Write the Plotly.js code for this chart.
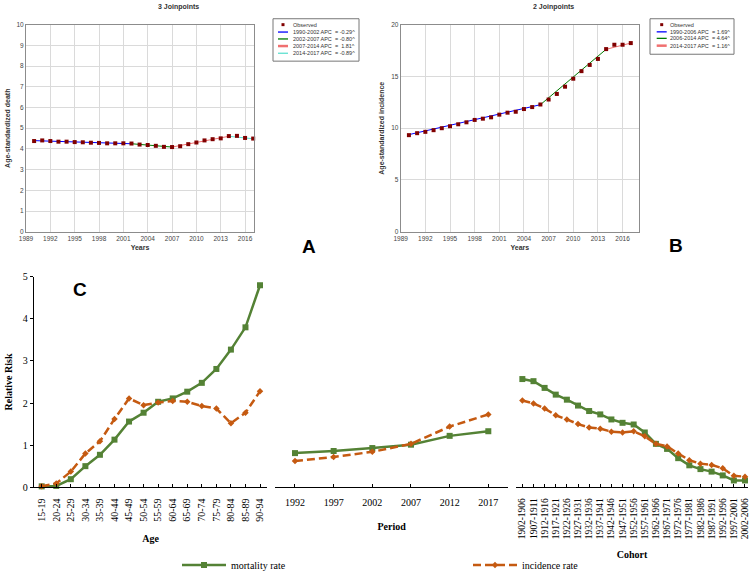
<!DOCTYPE html>
<html><head><meta charset="utf-8">
<script src="https://cdn.plot.ly/plotly-3.0.1.min.js"></script>
<style>html,body{margin:0;padding:0;background:#fff}#chart{width:753px;height:580px}</style>
</head><body><div id="chart"></div>
<script>
// ---------- DATA ----------
const years = [1990,1991,1992,1993,1994,1995,1996,1997,1998,1999,2000,2001,2002,2003,2004,2005,2006,2007,2008,2009,2010,2011,2012,2013,2014,2015,2016,2017];
const deathObserved = [4.38,4.41,4.38,4.35,4.35,4.33,4.32,4.30,4.29,4.27,4.27,4.27,4.26,4.21,4.19,4.15,4.10,4.09,4.13,4.23,4.31,4.41,4.47,4.51,4.62,4.63,4.53,4.50];
const incidenceObserved = [9.33,9.52,9.65,9.81,10.0,10.19,10.38,10.57,10.80,10.92,11.05,11.31,11.50,11.59,11.85,12.04,12.29,12.77,13.31,14.01,14.78,15.51,16.11,16.69,17.64,18.06,18.06,18.22];

const deathSegYears = [[1990,2002],[2002,2007],[2007,2014],[2014,2017]];
const deathSegFit = [[4.40,4.25],[4.25,4.09],[4.09,4.61],[4.61,4.49]];
const deathSegLabels = ["1990-2002 APC  = -0.29^","2002-2007 APC  = -0.80^","2007-2014 APC  =  1.81^","2014-2017 APC  = -0.89^"];
const deathSegColors = ["#0000ff","#007a00","#f07070","#5fe0d0"];

const incSegYears = [[1990,2006],[2006,2014],[2014,2017]];
const incSegFit = [[9.38,12.27],[12.27,17.62],[17.62,18.22]];
const incSegLabels = ["1990-2006 APC  = 1.69^","2006-2014 APC  = 4.64^","2014-2017 APC  = 1.16^"];
const incSegColors = ["#0000ff","#007a00","#f07070"];

const ageGroups = ["15-19","20-24","25-29","30-34","35-39","40-44","45-49","50-54","55-59","60-64","65-69","70-74","75-79","80-84","85-89","90-94"];
const ageMortality = [0.02,0.03,0.19,0.50,0.77,1.13,1.56,1.77,2.03,2.11,2.27,2.48,2.81,3.27,3.80,4.80];
const ageIncidence = [0.02,0.09,0.37,0.80,1.09,1.62,2.11,1.95,2.01,2.05,2.03,1.93,1.87,1.52,1.77,2.28];

const periods = ["1992","1997","2002","2007","2012","2017"];
const periodMortality = [0.81,0.86,0.93,1.01,1.22,1.33];
const periodIncidence = [0.62,0.72,0.84,1.03,1.44,1.73];

const cohorts = ["1902-1906","1907-1911","1912-1916","1917-1921","1922-1926","1927-1931","1932-1936","1937-1941","1942-1946","1947-1951","1952-1956","1957-1961","1962-1966","1967-1971","1972-1976","1977-1981","1982-1986","1987-1991","1992-1996","1997-2001","2002-2006"];
const cohortMortality = [2.57,2.52,2.36,2.20,2.08,1.94,1.81,1.73,1.61,1.53,1.49,1.30,1.03,0.91,0.69,0.52,0.43,0.37,0.28,0.16,0.16];
const cohortIncidence = [2.06,1.99,1.87,1.71,1.61,1.50,1.42,1.39,1.32,1.30,1.33,1.21,1.03,0.97,0.80,0.64,0.56,0.53,0.45,0.27,0.25];

// ---------- LAYOUT HELPERS ----------
const W = 753, H = 580;
const px = x => x / W;
const py = y => 1 - y / H;
const SANS = "Liberation Sans, Arial, sans-serif";
const SERIF = "Liberation Serif, Times New Roman, serif";
const GREEN = "#548235", ORANGE = "#c55a11", OBS = "#800000";

const traces = [];
// Panel A
deathSegYears.forEach((xs, i) => traces.push({x: xs, y: deathSegFit[i], xaxis: "x", yaxis: "y", mode: "lines", line: {color: deathSegColors[i], width: 1}, name: deathSegLabels[i], showlegend: false, hoverinfo: "skip"}));
traces.push({x: years, y: deathObserved, xaxis: "x", yaxis: "y", mode: "markers", marker: {symbol: "square", size: 4, color: OBS}, name: "Observed", showlegend: false, cliponaxis: false});
// Panel B
incSegYears.forEach((xs, i) => traces.push({x: xs, y: incSegFit[i], xaxis: "x2", yaxis: "y2", mode: "lines", line: {color: incSegColors[i], width: 1}, name: incSegLabels[i], showlegend: false, hoverinfo: "skip"}));
traces.push({x: years, y: incidenceObserved, xaxis: "x2", yaxis: "y2", mode: "markers", marker: {symbol: "square", size: 4, color: OBS}, name: "Observed", showlegend: false, cliponaxis: false});
// Panel C
const mortStyle = {mode: "lines+markers", line: {color: GREEN, width: 2.5}, marker: {symbol: "square", size: 6, color: GREEN}, cliponaxis: false};
const incStyle = {mode: "lines+markers", line: {color: ORANGE, width: 2.5, dash: "8px,4px"}, marker: {symbol: "diamond", size: 5, color: ORANGE}, cliponaxis: false};
traces.push(Object.assign({x: ageGroups, y: ageMortality, xaxis: "x3", yaxis: "y3", name: "mortality rate", showlegend: true, legend: "legend3"}, mortStyle));
traces.push(Object.assign({x: ageGroups, y: ageIncidence, xaxis: "x3", yaxis: "y3", name: "incidence rate", showlegend: true, legend: "legend4"}, incStyle));
traces.push(Object.assign({x: periods, y: periodMortality, xaxis: "x4", yaxis: "y3", name: "mortality rate", showlegend: false}, mortStyle));
traces.push(Object.assign({x: periods, y: periodIncidence, xaxis: "x4", yaxis: "y3", name: "incidence rate", showlegend: false}, incStyle));
traces.push(Object.assign({x: cohorts, y: cohortMortality, xaxis: "x5", yaxis: "y3", name: "mortality rate", showlegend: false}, mortStyle));
traces.push(Object.assign({x: cohorts, y: cohortIncidence, xaxis: "x5", yaxis: "y3", name: "incidence rate", showlegend: false}, incStyle));

const jpX = (dom, range, anchor) => ({domain: dom, range: range, anchor: anchor, tickmode: "linear", tick0: 1989, dtick: 3,
  showgrid: true, gridcolor: "#dadada", gridwidth: 1, showline: true, linecolor: "#8c8c8c", linewidth: 1, mirror: true,
  ticks: "", zeroline: false, tickfont: {family: SANS, size: 6.5, color: "#444"},
  title: {text: "<b>Years</b>", font: {family: SANS, size: 7, color: "#333"}, standoff: 4}});
const jpY = (dom, range, dtick, anchor, title) => ({domain: dom, range: range, anchor: anchor, dtick: dtick,
  showgrid: true, gridcolor: "#dadada", gridwidth: 1, showline: true, linecolor: "#8c8c8c", linewidth: 1, mirror: true,
  ticks: "", zeroline: false, tickfont: {family: SANS, size: 6.5, color: "#444"},
  title: {text: "<b>" + title + "</b>", font: {family: SANS, size: 7, color: "#333"}, standoff: 5}});
const cX = (dom, range, cats, angle, title, standoff, fsize) => ({domain: dom, range: range, anchor: "y3", type: "category",
  tickmode: "array", tickvals: cats, ticktext: cats,
  showgrid: false, zeroline: false, showline: true, linecolor: "#000", linewidth: 1.2,
  ticks: "inside", ticklen: 3, tickcolor: "#000", tickangle: angle, ticklabelstandoff: 6,
  tickfont: {family: SERIF, size: fsize, color: "#000"},
  title: {text: "<b>" + title + "</b>", font: {family: SERIF, size: 10, color: "#000"}, standoff: standoff}});

const annotations = [];
const shapes = [];
const ann = (x, y, text, size, opts) => annotations.push(Object.assign({xref: "paper", yref: "paper", x: px(x), y: py(y), text: text, showarrow: false,
  font: {family: SANS, size: size, color: "#000"}, xanchor: "center", yanchor: "middle"}, opts || {}));
ann(178, 7, "<b>3 Joinpoints</b>", 7, {font: {family: SANS, size: 7, color: "#333"}});
ann(553, 7, "<b>2 Joinpoints</b>", 7, {font: {family: SANS, size: 7, color: "#333"}});
ann(309, 250, "<b>A</b>", 19);
ann(676, 249, "<b>B</b>", 19);
ann(80, 294, "<b>C</b>", 19);

// Manual JoinPoint legends
function jpLegend(box, rows, lineX0, lineX1, textX, labels, colors) {
  shapes.push({type: "rect", xref: "paper", yref: "paper", x0: px(box[0]), y0: py(box[1]), x1: px(box[2]), y1: py(box[3]), line: {color: "#777", width: 1}, fillcolor: "#fff"});
  const mx = (lineX0 + lineX1) / 2;
  shapes.push({type: "rect", xref: "paper", yref: "paper", x0: px(mx - 1.5), x1: px(mx + 1.5), y0: py(rows[0] - 1.5), y1: py(rows[0] + 1.5), line: {width: 0}, fillcolor: OBS});
  ann(textX, rows[0], "Observed", 5.5, {xanchor: "left", font: {family: SANS, size: 5.5, color: "#333"}});
  labels.forEach((lab, i) => {
    const y = rows[i + 1];
    shapes.push({type: "line", xref: "paper", yref: "paper", x0: px(lineX0), x1: px(lineX1), y0: py(y), y1: py(y), line: {color: colors[i], width: colors[i] === "#f07070" ? 2.5 : 1.3}});
    ann(textX, y, lab, 5.5, {xanchor: "left", font: {family: SANS, size: 5.5, color: "#333"}});
  });
}
jpLegend([273, 19, 359, 62], [25, 32.5, 39.5, 46.7, 54], 278, 288, 290.5, deathSegLabels, deathSegColors);
jpLegend([650, 19, 734, 55], [25, 32.3, 38.9, 46.3], 656.7, 666.7, 668.3, incSegLabels, incSegColors);

const legendC = x => ({x: px(x), y: py(573), xanchor: "left", yanchor: "middle", orientation: "h", itemwidth: 44,
  font: {family: SERIF, size: 10, color: "#000"}, bgcolor: "rgba(0,0,0,0)", borderwidth: 0});

const layout = {
  width: W, height: H, margin: {l: 0, r: 0, t: 0, b: 0},
  paper_bgcolor: "#fff", plot_bgcolor: "#fff", showlegend: true,
  xaxis: jpX([px(26), px(254)], [1989, 2017.1], "y"),
  yaxis: jpY([py(235), py(25)], [0, 10], 1, "x", "Age-standardized death"),
  xaxis2: jpX([px(400.7), px(639)], [1989, 2018], "y2"),
  yaxis2: jpY([py(235), py(25)], [0, 20], 5, "x2", "Age-standardized incidence"),
  xaxis3: cX([px(34), px(267.3)], [-0.53, 15.5], ageGroups, -90, "Age", 14, 10),
  xaxis4: cX([px(275), px(508.3)], [-0.517, 5.517], periods, 0, "Period", 15, 10),
  xaxis5: cX([px(516), px(748)], [-0.57, 20.27], cohorts, -90, "Cohort", 12, 9.5),
  yaxis3: {domain: [py(494), py(280.7)], range: [0, 5], dtick: 1, anchor: "x3", showgrid: false, zeroline: false,
    showline: true, linecolor: "#000", linewidth: 1.2, ticks: "outside", ticklen: 3, tickcolor: "#000",
    tickfont: {family: SERIF, size: 10, color: "#000"},
    title: {text: "<b>Relative Risk</b>", font: {family: SERIF, size: 10, color: "#000"}, standoff: 8}},
  legend3: legendC(177),
  legend4: legendC(468),
  annotations: annotations,
  shapes: shapes
};
Plotly.newPlot("chart", traces, layout, {displayModeBar: false, staticPlot: true});
</script>
</body></html>
